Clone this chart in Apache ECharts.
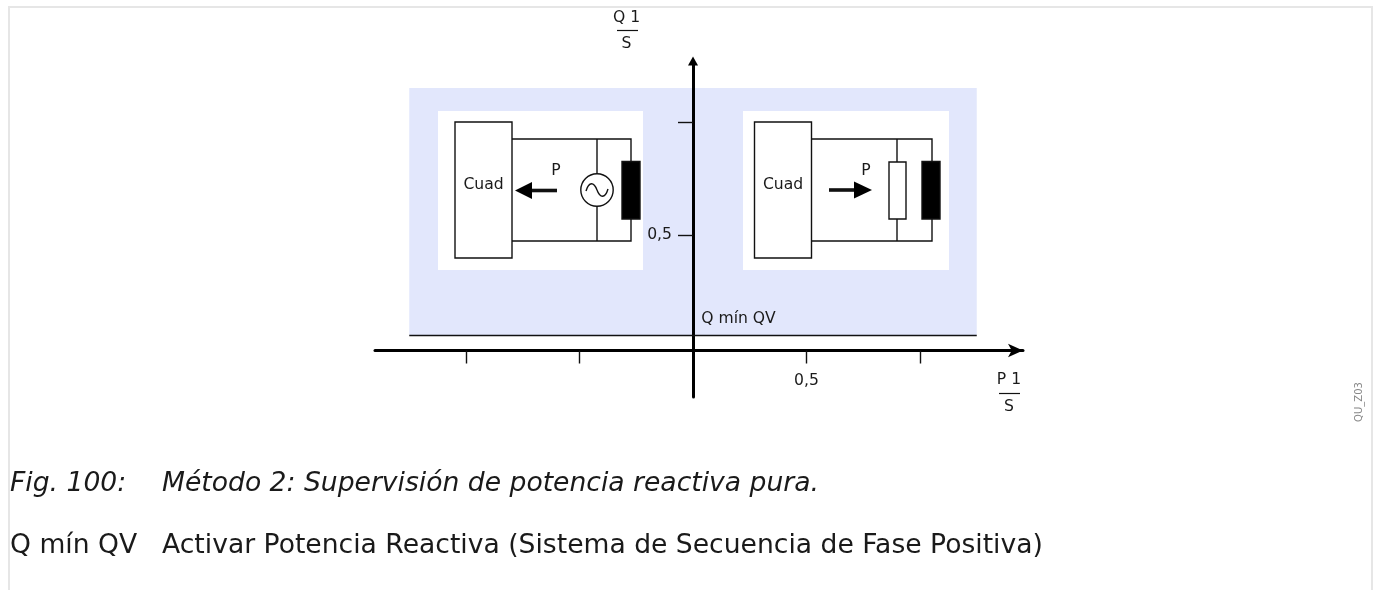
<!DOCTYPE html>
<html>
<head>
<meta charset="utf-8">
<style>html,body{margin:0;padding:0;background:#fff}#chart{width:1375px;height:590px}</style>
<script src="https://cdn.jsdelivr.net/npm/echarts@6/dist/echarts.min.js"></script>
</head>
<body>
<div id="chart"></div>
<script>
// values, in units of P/S and Q/S
const xTicks = [-1, -0.5, 0.5, 1];
const xLabels = [0.5];
const yTicks = [0.5, 0.99];
const yLabels = [0.5];
const zoneX = [-1.25, 1.25];
const zoneTop = [1.136];
const qMinQV = [0.067];

const captionFig = ['Fig. 100:', 'Método 2: Supervisión de potencia reactiva pura.'];
const captionQ = ['Q mín QV', 'Activar Potencia Reactiva (Sistema de Secuencia de Fase Positiva)'];

const font = '"DejaVu Sans"';
const ink = '#1a1a1a';
const small = 15.6;
const large = 26.6;

var myChart = echarts.init(document.getElementById('chart'), null, {renderer: 'canvas'});

function txt(x, y, s, size, extra) {
    return {type: 'text', x: x, y: y, z: 10, silent: true,
        style: Object.assign({text: s, font: size + 'px ' + font, fill: ink, align: 'center', verticalAlign: 'middle'}, extra || {})};
}
function wire(points, w) {
    return {type: 'polyline', z: 10, silent: true, shape: {points: points},
        style: {stroke: '#111', lineWidth: w || 1.4, fill: null}};
}
function box(x, y, w, h, fill) {
    return {type: 'rect', z: 10, silent: true, shape: {x: x, y: y, width: w, height: h},
        style: {fill: fill, stroke: '#111', lineWidth: 1.4}};
}
function curve(x1, y1, cx1, cy1, cx2, cy2, x2, y2) {
    return {type: 'bezierCurve', z: 11, silent: true,
        shape: {x1: x1, y1: y1, cpx1: cx1, cpy1: cy1, cpx2: cx2, cpy2: cy2, x2: x2, y2: y2},
        style: {fill: null, stroke: '#111', lineWidth: 1.4}};
}
function arrow(from, tip, base, y) {
    return [
        wire([[from, y], [base, y]], 3.6),
        {type: 'polygon', z: 10, silent: true, shape: {points: [[tip, y], [base, y - 8.5], [base, y + 8.5]]}, style: {fill: '#000'}}
    ];
}
// white schematic panel with the box, the two wires and the coil
function panel(dx, px, pw, wireEnd, coilX, branchX) {
    return [
        {type: 'rect', z: 9, silent: true, shape: {x: px, y: 111, width: pw, height: 159}, style: {fill: '#fff'}},
        box(455 + dx, 122, 57, 136, '#fff'),
        wire([[512 + dx, 139], [wireEnd, 139], [wireEnd, 241], [512 + dx, 241]]),
        wire([[branchX, 139], [branchX, 241]]),
        box(coilX, 161.5, 18, 57.5, '#000'),
        txt(483.5 + dx, 184.5, 'Cuad', small)
    ];
}

const graphics = [].concat(
    // page frame
    [{type: 'polyline', z: 1, silent: true, shape: {points: [[9, 590], [9, 7], [1372, 7], [1372, 590]]},
        style: {stroke: '#e6e6e6', lineWidth: 2, fill: null}}],
    panel(0, 438, 205, 631, 622, 597),
    [
        {type: 'circle', z: 10, silent: true, shape: {cx: 597, cy: 190, r: 16.2}, style: {fill: '#fff', stroke: '#111', lineWidth: 1.4}},
        curve(586, 191, 589, 181, 594, 182, 597, 190),
        curve(597, 190, 600, 198, 605, 199, 608, 189),
        txt(556, 171, 'P', small)
    ],
    arrow(557, 515, 532, 190.5),
    panel(299.5, 743, 206, 932, 922, 897),
    [box(889, 162, 17, 57, '#fff'), txt(866, 171, 'P', small)],
    arrow(829, 872, 854, 190),
    [
        // axis names, written as fractions
        txt(626.5, 18, 'Q 1', small),
        wire([[617, 30.5], [638, 30.5]], 1.2),
        txt(626.5, 44, 'S', small),
        txt(1009, 380, 'P 1', small),
        wire([[999, 393.5], [1020, 393.5]], 1.2),
        txt(1009, 407, 'S', small),
        txt(738.5, 319, 'Q mín QV', small),
        {type: 'text', x: 1359, y: 402, z: 10, silent: true, rotation: Math.PI / 2,
            style: {text: 'QU_Z03', font: '10px ' + font, fill: '#888', align: 'center', verticalAlign: 'middle'}},
        txt(10, 484, captionFig[0], large, {align: 'left', font: 'italic ' + large + 'px ' + font}),
        txt(162, 484, captionFig[1], large, {align: 'left', font: 'italic ' + large + 'px ' + font}),
        txt(10, 546, captionQ[0], large, {align: 'left'}),
        txt(162, 546, captionQ[1], large, {align: 'left'})
    ]
);

function axisBase(tickLen, tickVals, labelVals, margin, head, shape) {
    return {
        type: 'value',
        z: 3,
        splitLine: {show: false},
        axisLine: {show: true, onZero: true, symbol: ['none', shape], symbolSize: head,
            lineStyle: {color: '#000', width: 3}},
        axisTick: {show: true, length: tickLen, customValues: tickVals, lineStyle: {color: '#111', width: 1.4}},
        axisLabel: {show: true, customValues: labelVals, margin: margin, color: ink, fontFamily: font, fontSize: small,
            formatter: function (v) { return String(v).replace('.', ','); }}
    };
}

const xAxis = axisBase(13, xTicks, xLabels, -24, [10, 15], 'arrow');
const yAxis = axisBase(15, yTicks, yLabels, -297, [10, 9], 'triangle');
yAxis.axisLabel.padding = [8, 0, 0, 0];

var option = {
    animation: false,
    backgroundColor: '#fff',
    grid: {left: 375, right: 352, top: 61, bottom: 193},
    // labels stay at the grid edge, so the margins pull them back to the zero lines
    xAxis: Object.assign(xAxis, {min: -1.4009, max: 1.4537}),
    yAxis: Object.assign(yAxis, {min: -0.2013, max: 1.2532}),
    series: [{
        type: 'line',
        data: [],
        z: 1,
        markArea: {
            silent: true,
            itemStyle: {color: '#e2e7fc', opacity: 1},
            data: [[{coord: [zoneX[0], qMinQV[0]]}, {coord: [zoneX[1], zoneTop[0]]}]]
        },
        markLine: {
            silent: true,
            symbol: 'none',
            label: {show: false},
            lineStyle: {color: '#111', width: 1.4, type: 'solid'},
            data: [[{coord: [zoneX[0], qMinQV[0]]}, {coord: [zoneX[1], qMinQV[0]]}]]
        }
    }],
    graphic: graphics
};
myChart.setOption(option);
</script>
</body>
</html>
